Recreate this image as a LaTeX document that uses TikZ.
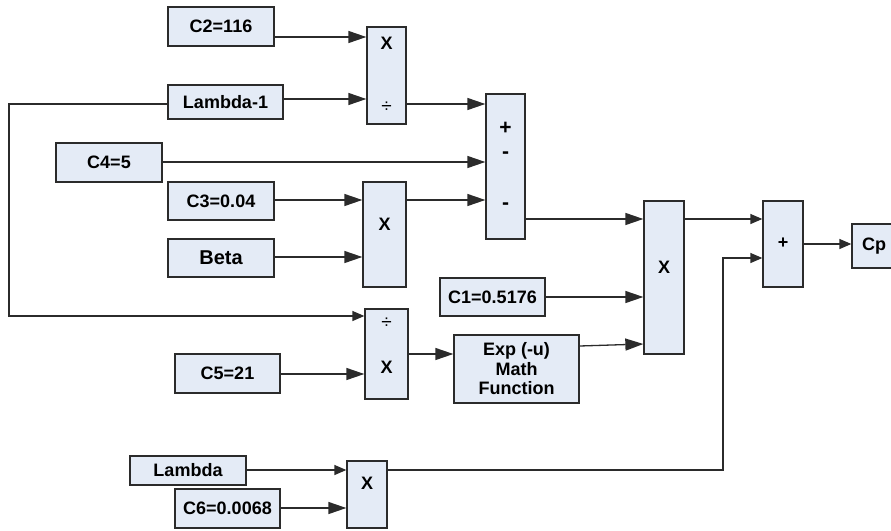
\documentclass[tikz,border=0pt]{standalone}
\usepackage{fontspec}
\setmainfont{Liberation Sans}
\usetikzlibrary{arrows.meta}
\definecolor{boxfill}{HTML}{E4EBF6}
\definecolor{ln}{HTML}{2B2B2B}
\tikzset{
  blk/.style={draw=ln, line width=1.3pt, fill=boxfill, inner sep=0pt, font=\fontsize{18}{21}\selectfont\bfseries, align=center},
  sym/.style={inner sep=0pt, font=\fontsize{18}{21}\selectfont\bfseries},
  dv/.style={inner sep=0pt, font=\fontsize{19}{21}\selectfont},
  arr/.style={draw=ln, line width=1.3pt, -{Triangle[length=18pt,width=12pt]}},
  sarr/.style={draw=ln, line width=1.3pt, -{Triangle[length=12pt,width=10pt]}},
}
\begin{document}
\begin{tikzpicture}[x=1pt,y=-1pt]
\useasboundingbox (0,0) rectangle (891,530);
% blocks
\node[blk, minimum width=106, minimum height=39] (c2) at (221,26.5) {C2=116};
\node[blk, minimum width=115, minimum height=34] (lam1) at (225.5,102) {Lambda-1};
\node[blk, minimum width=39, minimum height=97] (m1) at (386.5,75.5) {};
\node[blk, minimum width=106, minimum height=39] (c4) at (109,162.5) {C4=5};
\node[blk, minimum width=106, minimum height=38] (c3) at (221,201) {C3=0.04};
\node[blk, minimum width=43, minimum height=105] (m2) at (384.5,234.5) {};
\node[blk, minimum width=106, minimum height=38, font=\fontsize{20}{23}\selectfont\bfseries] (beta) at (221,258) {Beta};
\node[blk, minimum width=39, minimum height=145] (s1) at (505.5,166.5) {};
\node[blk, minimum width=40, minimum height=153] (mx) at (664,277.5) {};
\node[blk, minimum width=105, minimum height=38] (c1) at (492.5,297) {C1=0.5176};
\node[blk, minimum width=125, minimum height=68, font=\fontsize{18}{19.5}\selectfont\bfseries] (ex) at (516.5,369) {Exp (-u)\\Math\\Function};
\node[blk, minimum width=43, minimum height=90] (dm) at (386.5,354) {};
\node[blk, minimum width=105, minimum height=39] (c5) at (227.5,373.5) {C5=21};
\node[blk, minimum width=116, minimum height=29] (lam) at (188,470.5) {Lambda};
\node[blk, minimum width=105, minimum height=39] (c6) at (227.5,508.5) {C6=0.0068};
\node[blk, minimum width=40, minimum height=67] (m3) at (367,494.5) {};
\node[blk, minimum width=40, minimum height=86] (s2) at (783,244) {};
\node[blk, minimum width=44, minimum height=44] (cp) at (874,246) {Cp};
% operator symbols
\node[sym] (m1x) at (386.5,43) {X};
\node[dv] (m1d) at (386.5,107) {÷};
\node[sym] (m2x) at (384.5,224) {X};
\node[sym, font=\fontsize{21}{23}\selectfont\bfseries] (s1a) at (505.5,128) {+};
\node[sym, font=\fontsize{21}{23}\selectfont\bfseries] (s1b) at (505.5,155) {-};
\node[sym, font=\fontsize{21}{23}\selectfont\bfseries] (s1c) at (505.5,206) {-};
\node[sym] (mxx) at (664,267) {X};
\node[dv] (dmd) at (386.5,323) {÷};
\node[sym] (dmx) at (386.5,367) {X};
\node[sym] (m3x) at (367,483) {X};
\node[sym] (s2a) at (783,243) {+};
% helper coordinates
\coordinate (lft) at (9,104);
\coordinate (rgt) at (723,470);
% connectors
\draw[arr] (c2.east |- 0,37) -- (m1.west |- 0,37);
\draw[arr] (lam1.east |- 0,99) -- (m1.west |- 0,99);
\draw[sarr] (lam1.west |- 0,104) -- (lft) |- (dm.west |- 0,316);
\draw[arr] (m1.east |- 0,104) -- (s1.west |- 0,104);
\draw[arr] (c4.east |- 0,162) -- (s1.west |- 0,162);
\draw[arr] (c3.east |- 0,200) -- (m2.west |- 0,200);
\draw[arr] (beta.east |- 0,257) -- (m2.west |- 0,257);
\draw[arr] (m2.east |- 0,200) -- (s1.west |- 0,200);
\draw[arr] (s1.east |- 0,219) -- (mx.west |- 0,219);
\draw[arr] (c1.east |- 0,297) -- (mx.west |- 0,297);
\draw[arr] (ex.east |- 0,346) -- (mx.west |- 0,344);
\draw[arr] (c5.east |- 0,374) -- (dm.west |- 0,374);
\draw[arr] (dm.east |- 0,354) -- (ex.west |- 0,354);
\draw[sarr] (lam.east |- 0,470) -- (m3.west |- 0,470);
\draw[arr] (c6.east |- 0,508) -- (m3.west |- 0,508);
\draw[sarr] (m3.east |- 0,470) -- (rgt) |- (s2.west |- 0,258);
\draw[sarr] (mx.east |- 0,219) -- (s2.west |- 0,219);
\draw[sarr] (s2.east |- 0,244) -- (cp.west |- 0,244);
\end{tikzpicture}
\end{document}
